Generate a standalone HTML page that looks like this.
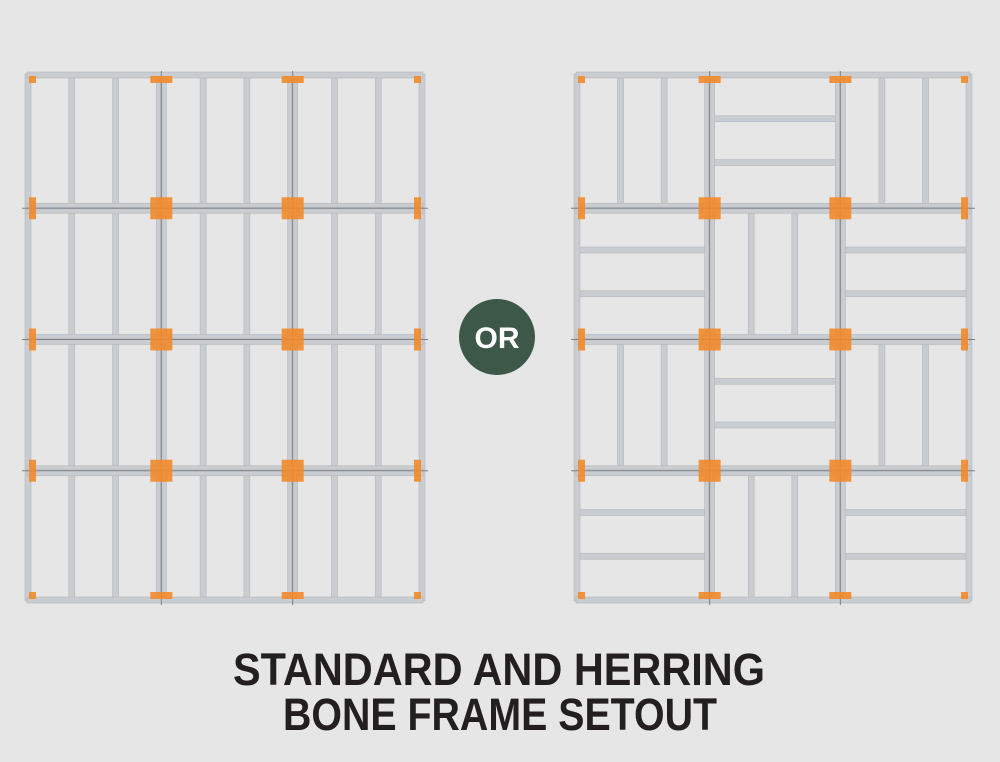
<!DOCTYPE html>
<html><head><meta charset="utf-8"><style>
html,body{margin:0;padding:0;background:#e6e6e6;}
svg{display:block}
</style></head><body>
<svg id="s" width="1000" height="762" viewBox="0 0 1000 762" xmlns="http://www.w3.org/2000/svg">
<rect width="1000" height="762" fill="#e6e6e6"/>
<g id="g"></g>
<circle cx="497" cy="337" r="38" fill="#3d5849"/>
<text x="497" y="348" text-anchor="middle" font-family="Liberation Sans, sans-serif" font-weight="bold" font-size="30" fill="#fff">OR</text>
<text x="233" y="685" textLength="532" lengthAdjust="spacingAndGlyphs" font-family="Liberation Sans, sans-serif" font-weight="bold" font-size="45" fill="#231f20">STANDARD AND HERRING</text>
<text x="283" y="730" textLength="434" lengthAdjust="spacingAndGlyphs" font-family="Liberation Sans, sans-serif" font-weight="bold" font-size="45" fill="#231f20">BONE FRAME SETOUT</text>
</svg>
<script>
var g=document.getElementById('g'),h='';
var C='#c9ccd0',E='#b3b7bb',O='#f28a2a';
function V(x,y1,y2){h+='<rect x="'+(x-3)+'" y="'+y1+'" width="6" height="'+(y2-y1)+'" fill="'+C+'" stroke="'+E+'" stroke-width="0.6"/>';}
function H(y,x1,x2){h+='<rect x="'+x1+'" y="'+(y-3)+'" width="'+(x2-x1)+'" height="6" fill="'+C+'" stroke="'+E+'" stroke-width="0.6"/>';}
function R(x,y,w,hh){h+='<rect x="'+x+'" y="'+y+'" width="'+w+'" height="'+hh+'" fill="'+O+'" opacity="0.9"/>';}
function frame(x0,y0,x1,y1,pat){
 var cw=(x1-x0)/3,rh=(y1-y0)/4;
 for(var r=0;r<4;r++)for(var c=0;c<3;c++){
  var cx=x0+c*cw,cy=y0+r*rh,t=pat?pat(r,c):'V';
  if(t=='V'){for(var k=1;k<3;k++)V(cx+k*cw/3,cy,cy+rh);}
  else{for(var k=1;k<3;k++)H(cy+k*rh/3,cx,cx+cw);}
 }
 for(var c=0;c<=3;c++){V(x0+c*cw,y0-1,y1+1); if(c>0&&c<3)V(x0+c*cw+4,y0-1,y1+1);}
 for(var r=0;r<=4;r++){H(y0+r*rh,x0-1,x1+1); if(r>0&&r<4)H(y0+r*rh+4,x0-1,x1+1);}
 for(var c=1;c<3;c++){var x=x0+c*cw+2;h+='<line x1="'+x+'" y1="'+(y0-4)+'" x2="'+x+'" y2="'+(y1+5)+'" stroke="#7d8185" stroke-width="1"/>';}
 for(var r=1;r<4;r++){var y=y0+r*rh+2;h+='<line x1="'+(x0-6)+'" y1="'+y+'" x2="'+(x1+6)+'" y2="'+y+'" stroke="#7d8185" stroke-width="1"/>';}
 for(var r=0;r<=4;r++)for(var c=0;c<=3;c++){
  var x=x0+c*cw+2,y=y0+r*rh+2;
  var ex=(c==0||c==3),ey=(r==0||r==4);
  var w=ex?7:22,hh=ey?7:22;
  var xx=c==0?x0+1:(c==3?x1-8:x-11);
  var yy=r==0?y0+1:(r==4?y1-8:y-11);
  R(xx,yy,w,hh);
 }
}
frame(28,75,422,600,null);
frame(577,75,969,600,function(r,c){return ((r+c)%2==0)?'V':'H';});
g.innerHTML=h;
</script>
</body></html>
